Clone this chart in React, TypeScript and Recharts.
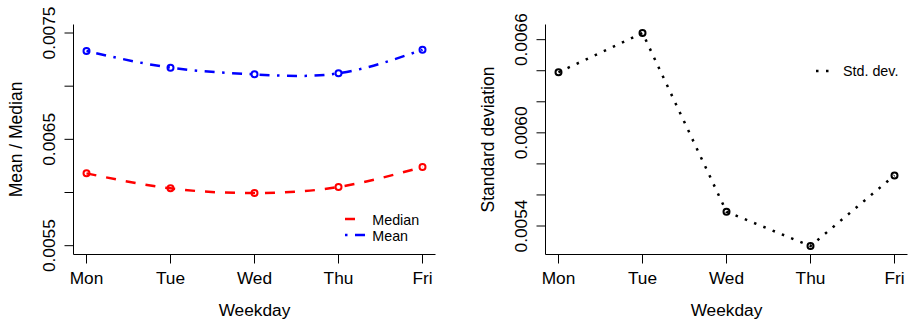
import React from 'react';
import { LineChart, Line, XAxis, YAxis, Legend } from 'recharts';

const weekdays = ['Mon', 'Tue', 'Wed', 'Thu', 'Fri'];
const meanValues = [0.007331, 0.007174, 0.007111, 0.007121, 0.007343];
const medianValues = [0.00618, 0.006039, 0.005995, 0.006052, 0.00624];
const stdValues = [0.00639, 0.006643, 0.005492, 0.005271, 0.005726];

const leftTicks = [0.0055, 0.006, 0.0065, 0.007, 0.0075];
const leftTickLabels = ['0.0055', '0.0065', '0.0075'];
const rightTicks = [0.0054, 0.0056, 0.0058, 0.006, 0.0062, 0.0064, 0.0066];
const rightTickLabels = ['0.0054', '0.0060', '0.0066'];

const leftDomain = [0.005417, 0.00758];
const rightDomain = [0.0052165, 0.0066977];

const leftData = weekdays.map((d, i) => ({ day: d, mean: meanValues[i], median: medianValues[i] }));
const rightData = weekdays.map((d, i) => ({ day: d, sd: stdValues[i] }));

const FONT = '"Liberation Sans", Arial, Helvetica, sans-serif';
const RED = '#FF0000';
const BLUE = '#0000FF';
const BLACK = '#000000';

const XTick = (props: any) => {
  const { x, payload } = props;
  return (
    <text x={x} y={284} textAnchor="middle" fontSize={17.3} fontFamily={FONT} fill={BLACK}>
      {payload.value}
    </text>
  );
};

const makeYTick = (labels: string[], bx: number) => (props: any) => {
  const { y, payload } = props;
  const lbl = labels.find((s) => Math.abs(parseFloat(s) - payload.value) < 1e-9);
  if (!lbl) return <g />;
  return (
    <text
      x={bx}
      y={y}
      transform={`rotate(-90 ${bx} ${y})`}
      textAnchor="middle"
      fontSize={17.3}
      fontFamily={FONT}
      fill={BLACK}
    >
      {lbl}
    </text>
  );
};

const makeDot = (color: string) => (p: any) => (
  <circle key={`dot-${p.index}`} cx={p.cx} cy={p.cy} r={3} fill="none" stroke={color} strokeWidth={2} />
);

const xTitle = (cx: number) => () => (
  <text x={cx} y={315.5} textAnchor="middle" fontSize={17.3} fontFamily={FONT} fill={BLACK}>
    Weekday
  </text>
);

const yTitle = (bx: number, text: string) => () => (
  <text
    x={bx}
    y={139.5}
    transform={`rotate(-90 ${bx} 139.5)`}
    textAnchor="middle"
    fontSize={17.5}
    fontFamily={FONT}
    fill={BLACK}
  >
    {text}
  </text>
);

const LeftLegend = () => (
  <svg width={110} height={42} style={{ display: 'block' }}>
    <line x1={5} y1={14} x2={25} y2={14} stroke={RED} strokeWidth={2.5} strokeDasharray="10 10" />
    <text x={32.3} y={20} fontSize={14.3} fontFamily={FONT} fill={BLACK}>Median</text>
    <line x1={5} y1={30} x2={25} y2={30} stroke={BLUE} strokeWidth={2.5} strokeDasharray="2.5 7.5 10 7.5" />
    <text x={32.3} y={35.5} fontSize={14.3} fontFamily={FONT} fill={BLACK}>Mean</text>
  </svg>
);

const RightLegend = () => (
  <svg width={99} height={26} style={{ display: 'block' }}>
    <line x1={6} y1={11} x2={26} y2={11} stroke={BLACK} strokeWidth={2.5} strokeDasharray="2.5 7.5" />
    <text x={33} y={16} fontSize={14.3} fontFamily={FONT} fill={BLACK}>Std. dev.</text>
  </svg>
);

export default function App() {
  return (
    <div style={{ position: 'absolute', left: 0, top: 0, width: 909, height: 324, background: '#fff' }}>
      <div style={{ position: 'absolute', left: 0, top: 0 }}>
        <LineChart width={460} height={324} data={leftData} margin={{ top: 24.5, right: 24.5, bottom: 0, left: 0 }}>
          <XAxis
            xAxisId="b"
            dataKey="day"
            height={69.5}
            padding={{ left: 13, right: 13 }}
            interval={0}
            tickSize={9}
            stroke={BLACK}
            axisLine={{ stroke: BLACK }}
            tickLine={{ stroke: BLACK }}
            tick={XTick}
            label={xTitle(254.5)}
          />
          <XAxis xAxisId="t" dataKey="day" orientation="top" height={0} tick={false} tickLine={false} axisLine={{ stroke: BLACK }} />
          <YAxis
            yAxisId="l"
            type="number"
            domain={leftDomain}
            ticks={leftTicks}
            interval={0}
            width={73.5}
            tickSize={9}
            axisLine={{ stroke: BLACK }}
            tickLine={{ stroke: BLACK }}
            tick={makeYTick(leftTickLabels, 55)}
            label={yTitle(21.7, 'Mean / Median')}
            allowDataOverflow
          />
          <YAxis yAxisId="r" orientation="right" type="number" domain={leftDomain} width={0} tick={false} tickLine={false} axisLine={{ stroke: BLACK }} />
          <Line
            xAxisId="b"
            yAxisId="l"
            dataKey="mean"
            type="natural"
            stroke={BLUE}
            strokeWidth={2.5}
            strokeDasharray="2.5 7.5 10 7.5"
            dot={makeDot(BLUE)}
            activeDot={false}
            isAnimationActive={false}
          />
          <Line
            xAxisId="b"
            yAxisId="l"
            dataKey="median"
            type="natural"
            stroke={RED}
            strokeWidth={2.5}
            strokeDasharray="10 10"
            dot={makeDot(RED)}
            activeDot={false}
            isAnimationActive={false}
          />
          <Legend
            layout="horizontal"
            verticalAlign="middle"
            align="center"
            wrapperStyle={{ left: 340, top: 205, width: 110, height: 42 }}
            content={() => <LeftLegend />}
          />
        </LineChart>
      </div>
      <div style={{ position: 'absolute', left: 460, top: 0 }}>
        <LineChart width={449} height={324} data={rightData} margin={{ top: 24.5, right: 1.5, bottom: 0, left: 0 }}>
          <XAxis
            xAxisId="b"
            dataKey="day"
            height={69.5}
            padding={{ left: 13, right: 13 }}
            interval={0}
            tickSize={9}
            axisLine={{ stroke: BLACK }}
            tickLine={{ stroke: BLACK }}
            tick={XTick}
            label={xTitle(266.5)}
          />
          <XAxis xAxisId="t" dataKey="day" orientation="top" height={0} tick={false} tickLine={false} axisLine={{ stroke: BLACK }} />
          <YAxis
            yAxisId="l"
            type="number"
            domain={rightDomain}
            ticks={rightTicks}
            interval={0}
            width={85.5}
            tickSize={9}
            axisLine={{ stroke: BLACK }}
            tickLine={{ stroke: BLACK }}
            tick={makeYTick(rightTickLabels, 66.7)}
            label={yTitle(34.3, 'Standard deviation')}
            allowDataOverflow
          />
          <YAxis yAxisId="r" orientation="right" type="number" domain={rightDomain} width={0} tick={false} tickLine={false} axisLine={{ stroke: BLACK }} />
          <Line
            xAxisId="b"
            yAxisId="l"
            dataKey="sd"
            type="linear"
            stroke={BLACK}
            strokeWidth={2.5}
            strokeDasharray="2.5 7.5"
            dot={makeDot(BLACK)}
            activeDot={false}
            isAnimationActive={false}
          />
          <Legend
            layout="horizontal"
            verticalAlign="middle"
            align="center"
            wrapperStyle={{ left: 350, top: 60, width: 99, height: 26 }}
            content={() => <RightLegend />}
          />
        </LineChart>
      </div>
    </div>
  );
}
